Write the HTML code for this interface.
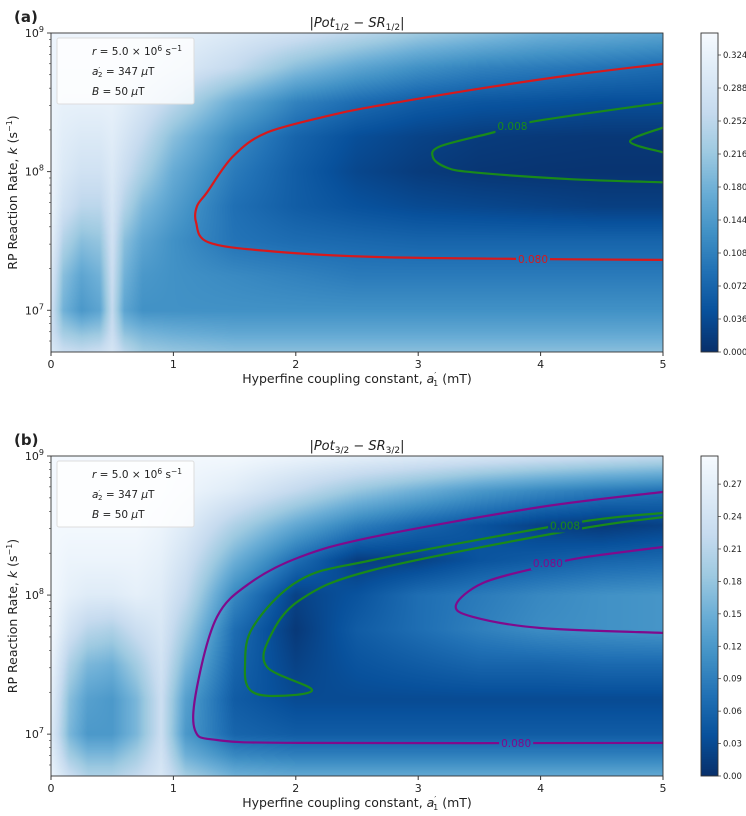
<!DOCTYPE html>
<html><head><meta charset="utf-8">
<style>
body{margin:0;background:#fff;width:746px;height:816px;overflow:hidden;position:relative;font-family:"Liberation Sans","DejaVu Sans",sans-serif}
canvas{position:absolute}
svg{position:absolute;left:0;top:0}
text{font-family:"DejaVu Sans","Liberation Sans",sans-serif;fill:#222}
</style></head><body>
<canvas id="hmA" width="612" height="319" style="left:51px;top:33px"></canvas>
<canvas id="hmB" width="612" height="320" style="left:51px;top:456px"></canvas>
<canvas id="cbA" width="17" height="319" style="left:701px;top:33px"></canvas>
<canvas id="cbB" width="17" height="320" style="left:701px;top:456px"></canvas>
<svg id="svg" width="746" height="816"></svg>
<script>
// ---- data ----
const xsA=[0,0.1,0.25,0.4,0.5,0.6,0.75,1,1.5,2,2.5,3,3.5,4,4.5,5];
const lkA=[9,8.75,8.5,8.25,8,7.75,7.5,7.25,7,6.85,6.7];
const zA=[
[.33,.33,.33,.33,.33,.33,.33,.32,.3,.28,.25,.22,.2,.18,.17,.16],
[.33,.33,.33,.33,.33,.33,.32,.3,.26,.2,.16,.13,.11,.1,.09,.08],
[.33,.32,.32,.32,.32,.31,.29,.25,.17,.11,.08,.06,.05,.045,.04,.04],
[.33,.31,.3,.3,.31,.29,.26,.2,.12,.07,.04,.025,.015,.012,.01,.01],
[.33,.3,.28,.28,.3,.27,.23,.17,.1,.06,.03,.015,.008,.006,.005,.005],
[.33,.28,.25,.25,.29,.24,.19,.15,.085,.06,.045,.035,.03,.025,.02,.02],
[.32,.24,.2,.21,.28,.2,.16,.13,.09,.08,.075,.07,.07,.07,.07,.07],
[.3,.2,.16,.18,.27,.18,.14,.13,.12,.11,.1,.1,.1,.1,.1,.1],
[.28,.18,.14,.16,.26,.16,.13,.13,.13,.13,.13,.13,.13,.13,.13,.13],
[.28,.22,.2,.21,.27,.2,.18,.17,.16,.16,.16,.16,.16,.16,.16,.16],
[.3,.27,.26,.27,.29,.25,.22,.21,.2,.2,.2,.2,.2,.2,.2,.2]];
const xsB=[0,0.15,0.3,0.5,0.7,0.9,1.1,1.5,2,2.5,3,3.5,4,4.5,5];
const lkB=[9,8.75,8.5,8.25,8,7.75,7.5,7.25,7,6.85,6.7];
const zB=[
[.29,.29,.29,.29,.29,.29,.29,.29,.28,.27,.26,.25,.24,.23,.22],
[.29,.29,.29,.29,.29,.29,.28,.26,.22,.18,.15,.12,.1,.085,.075],
[.29,.29,.29,.29,.29,.28,.26,.2,.14,.09,.06,.04,.02,.01,.02],
[.29,.28,.28,.28,.28,.27,.24,.15,.07,.015,.02,.04,.05,.06,.065],
[.29,.27,.26,.26,.27,.26,.22,.1,.02,.04,.07,.085,.1,.11,.115],
[.29,.24,.21,.2,.23,.25,.19,.07,.01,.05,.07,.09,.105,.11,.115],
[.28,.2,.16,.15,.19,.24,.16,.06,.02,.04,.05,.06,.06,.065,.065],
[.27,.17,.13,.12,.16,.23,.13,.05,.03,.03,.03,.03,.03,.03,.03],
[.26,.16,.12,.12,.16,.23,.12,.06,.05,.05,.05,.05,.05,.05,.05],
[.27,.19,.16,.16,.19,.24,.15,.1,.09,.09,.09,.09,.09,.09,.09],
[.28,.23,.2,.2,.22,.25,.19,.15,.14,.14,.14,.14,.14,.14,.14]];
const redA=[[5,8.777],[4.265,8.698],[3.448,8.591],[2.631,8.469],[2.304,8.411],[1.765,8.282],[1.487,8.11],[1.275,7.851],[1.193,7.751],[1.185,7.636],[1.283,7.492],[1.765,7.428],[2.631,7.385],[3.938,7.37],[5,7.363]];
const greenA1=[[5,8.497],[3.938,8.361],[3.611,8.282],[3.178,8.182],[3.121,8.103],[3.227,8.031],[3.448,7.995],[4.265,7.945],[5,7.923]];
const greenA2=[[5,8.318],[4.73,8.218],[5,8.139]];
const purpleB1=[[5,8.741],[4.0,8.633],[2.631,8.418],[2.034,8.274],[1.626,8.087],[1.356,7.843],[1.193,7.339],[1.176,7.03],[1.356,6.958],[2.034,6.937],[5,6.937]];
const purpleB2=[[5,8.346],[4.322,8.267],[4.0,8.202],[3.529,8.087],[3.309,7.929],[3.448,7.843],[4.0,7.763],[5,7.728]];
const greenB=[[5,8.59],[4.265,8.518],[2.631,8.252],[2.034,8.109],[1.65,7.771],[1.585,7.483],[1.626,7.318],[1.814,7.274],[2.132,7.318],[1.765,7.483],[1.789,7.699],[2.034,7.965],[2.631,8.18],[4.265,8.468],[5,8.561]];
const ticksX=[0,1,2,3,4,5];
const cbTicksA=[0,0.036,0.072,0.108,0.144,0.180,0.216,0.252,0.288,0.324];
const cbTicksB=[0,0.03,0.06,0.09,0.12,0.15,0.18,0.21,0.24,0.27];
const vmaxA=0.348, vmaxB=0.296;

// ---- helpers ----
const NS='http://www.w3.org/2000/svg';
const svg=document.getElementById('svg');
function mk(tag,attrs,parent){const e=document.createElementNS(NS,tag);for(const k in attrs)e.setAttribute(k,attrs[k]);(parent||svg).appendChild(e);return e;}
const blues=[[247,251,255],[222,235,247],[198,219,239],[158,202,225],[107,174,214],[66,146,198],[33,113,181],[8,81,156],[8,48,107]];
function cmap(t){t=Math.max(0,Math.min(1,t));const u=(1-t)*8;const i=Math.min(7,Math.floor(u));const f=u-i;const a=blues[i],b=blues[i+1];return [a[0]+(b[0]-a[0])*f,a[1]+(b[1]-a[1])*f,a[2]+(b[2]-a[2])*f];}
function locate(arr,v,desc){for(let i=0;i<arr.length-1;i++){const a=arr[i],b=arr[i+1];if(desc?(v<=a&&v>=b):(v>=a&&v<=b))return [i,(v-a)/(b-a)];}return desc?(v>arr[0]?[0,0]:[arr.length-2,1]):(v<arr[0]?[0,0]:[arr.length-2,1]);}
function X0(x){return 51+x*122.4;}
function mkY(top,h){return l=>top+(9-l)*(h/2.30103);}
const YA=mkY(33,319), YB=mkY(456,320);
function smooth(P){ // catmull-rom to bezier
  let d='M'+P[0][0].toFixed(1)+' '+P[0][1].toFixed(1);
  for(let i=0;i<P.length-1;i++){const p0=P[Math.max(0,i-1)],p1=P[i],p2=P[i+1],p3=P[Math.min(P.length-1,i+2)];
    const c1=[p1[0]+(p2[0]-p0[0])/6,p1[1]+(p2[1]-p0[1])/6],c2=[p2[0]-(p3[0]-p1[0])/6,p2[1]-(p3[1]-p1[1])/6];
    d+=' C'+c1[0].toFixed(1)+' '+c1[1].toFixed(1)+' '+c2[0].toFixed(1)+' '+c2[1].toFixed(1)+' '+p2[0].toFixed(1)+' '+p2[1].toFixed(1);}
  return d;}

function heat(id,xs,lk,z,vmax,w,h){
  const c=document.getElementById(id).getContext('2d');const img=c.createImageData(w,h);
  for(let py=0;py<h;py++){const l=9-(py+0.5)/h*2.30103;const [j,fy]=locate(lk,l,true);
    for(let px=0;px<w;px++){const x=(px+0.5)/w*5;const [i,fx]=locate(xs,x,false);
      const v=(z[j][i]*(1-fx)+z[j][i+1]*fx)*(1-fy)+(z[j+1][i]*(1-fx)+z[j+1][i+1]*fx)*fy;
      const col=cmap(v/vmax);const k=(py*w+px)*4;img.data[k]=col[0];img.data[k+1]=col[1];img.data[k+2]=col[2];img.data[k+3]=255;}}
  c.putImageData(img,0,0);
}
function cbar(id,h){const c=document.getElementById(id).getContext('2d');for(let y=0;y<h;y++){const col=cmap(1-(y+0.5)/h);c.fillStyle=`rgb(${col[0]|0},${col[1]|0},${col[2]|0})`;c.fillRect(0,y,17,1);}}
heat('hmA',xsA,lkA,zA,vmaxA,612,319);heat('hmB',xsB,lkB,zB,vmaxB,612,320);cbar('cbA',319);cbar('cbB',320);

function panel(p){
  const g=mk('g',{});
  
  
  const bot=p.top+p.h;
  const t=mk('text',{x:14,y:p.top-11,'font-size':15,'font-weight':'bold'},g);t.textContent='('+p.id+')';
  
  const ti=mk('text',{x:357,y:p.top-6,'font-size':13,'text-anchor':'middle'},g);
  ti.innerHTML='|<tspan font-style="italic">Pot</tspan><tspan font-size="9" dy="3">'+p.sub+'</tspan><tspan dy="-3"> − </tspan><tspan font-style="italic">SR</tspan><tspan font-size="9" dy="3">'+p.sub+'</tspan><tspan dy="-3">|</tspan>';
  
  const defs=mk('defs',{},g);const m=mk('mask',{id:'m'+p.id,maskUnits:'userSpaceOnUse',x:0,y:0,width:746,height:816},defs);
  mk('rect',{x:0,y:0,width:746,height:816,fill:'#fff'},m);
  p.labels.forEach(L=>mk('rect',{x:X0(L.x)-17,y:p.Y(L.l)-7,width:34,height:14,fill:'#000'},m));
  const cp=mk('clipPath',{id:'c'+p.id},defs);mk('rect',{x:51,y:p.top,width:612,height:p.h},cp);
  const cg=mk('g',{mask:'url(#m'+p.id+')','clip-path':'url(#c'+p.id+')'},g);
  p.lines.forEach(L=>{const pts=L.pts.map(q=>[X0(q[0]),p.Y(q[1])]);
    const e=mk('path',{d:smooth(pts),fill:'none',stroke:L.c,'stroke-width':2.2,'stroke-linejoin':'round'},cg);
    });
  p.labels.forEach(L=>{const e=mk('text',{x:X0(L.x),y:p.Y(L.l)+4,'font-size':10.5,'text-anchor':'middle',style:'fill:'+L.c},g);e.textContent=L.t;
    });
  const fr=mk('rect',{x:51,y:p.top,width:612,height:p.h,fill:'none',stroke:'#333','stroke-width':0.9},g);
  
  ticksX.forEach(v=>{mk('line',{x1:X0(v),x2:X0(v),y1:bot,y2:bot+4,stroke:'#333'},g);
    const e=mk('text',{x:X0(v),y:bot+16,'font-size':11,'text-anchor':'middle'},g);e.textContent=v;
    });
  const xl=mk('text',{x:357,y:bot+31,'font-size':12.5,'text-anchor':'middle'},g);
  xl.innerHTML='Hyperfine coupling constant, <tspan font-style="italic">a</tspan><tspan font-size="8" dy="-5">′</tspan><tspan font-size="8" dy="8" dx="-3">1</tspan><tspan dy="-3"> (mT)</tspan>';
  
  for(let e10=6;e10<=9;e10++){for(let mlt=1;mlt<10;mlt++){const l=e10+Math.log10(mlt);if(l<6.699||l>9.0001)continue;const y=p.Y(l);
    mk('line',{x1:51,x2:mlt==1?47:49,y1:y,y2:y,stroke:'#333','stroke-width':mlt==1?0.9:0.6},g);
    if(mlt==1){const e=mk('text',{x:44,y:y+4,'font-size':11,'text-anchor':'end'},g);e.innerHTML='10<tspan font-size="8" dy="-5">'+e10+'</tspan>';
      }}}
  const yc=p.top+p.h/2;const yl=mk('text',{x:0,y:0,'font-size':12.5,'text-anchor':'middle',transform:`translate(17 ${yc}) rotate(-90)`},g);
  yl.innerHTML='RP Reaction Rate, <tspan font-style="italic">k</tspan> (s<tspan font-size="8" dy="-5">−1</tspan><tspan dy="5">)</tspan>';
  
  const lg=mk('g',{},g);
  mk('rect',{x:57,y:p.top+5,width:137,height:66,rx:2,fill:'#fff','fill-opacity':0.8,stroke:'#ddd'},lg);
  const l1=mk('text',{x:92,y:p.top+22,'font-size':10.5},lg);l1.innerHTML='<tspan font-style="italic">r</tspan> = 5.0 × 10<tspan font-size="7.5" dy="-4">6</tspan><tspan dy="4">  s</tspan><tspan font-size="7.5" dy="-4">−1</tspan>';
  const l2=mk('text',{x:92,y:p.top+42,'font-size':10.5},lg);l2.innerHTML='<tspan font-style="italic">a</tspan><tspan font-size="7" dy="-3">′</tspan><tspan font-size="7" dy="5" dx="-2">2</tspan><tspan dy="-2"> = 347 </tspan><tspan font-style="italic">μ</tspan>T';
  const l3=mk('text',{x:92,y:p.top+62,'font-size':10.5},lg);l3.innerHTML='<tspan font-style="italic">B</tspan> = 50 <tspan font-style="italic">μ</tspan>T';
  const cf=mk('rect',{x:701,y:p.top,width:17,height:p.h,fill:'none',stroke:'#333','stroke-width':0.9},g);
  
  p.cb.forEach(v=>{const y=bot-v/p.vmax*p.h;mk('line',{x1:718,x2:721,y1:y,y2:y,stroke:'#333','stroke-width':0.7},g);
    const e=mk('text',{x:723,y:y+3,'font-size':8.5},g);e.textContent=v.toFixed(p.dec);
    });
}
panel({id:'a',top:33,h:319,Y:YA,sub:'1/2',vmax:vmaxA,cb:cbTicksA,dec:3,
  lines:[{pts:redA,c:'#d7191c',name:'contour-0.080-a'},{pts:greenA1,c:'#1a8a1a',name:'contour-0.008-a'},{pts:greenA2,c:'#1a8a1a',name:'contour-0.008-a-inner'}],
  labels:[{x:3.938,l:7.37,t:'0.080',c:'#d7191c'},{x:3.77,l:8.33,t:'0.008',c:'#1a8a1a'}]});
panel({id:'b',top:456,h:320,Y:YB,sub:'3/2',vmax:vmaxB,cb:cbTicksB,dec:2,
  lines:[{pts:purpleB1,c:'#800a8c',name:'contour-0.080-b-outer'},{pts:purpleB2,c:'#800a8c',name:'contour-0.080-b-inner'},{pts:greenB,c:'#1a8a1a',name:'contour-0.008-b'}],
  labels:[{x:3.8,l:6.937,t:'0.080',c:'#800a8c'},{x:4.06,l:8.23,t:'0.080',c:'#800a8c'},{x:4.2,l:8.5,t:'0.008',c:'#1a8a1a'}]});
</script>
</body></html>
